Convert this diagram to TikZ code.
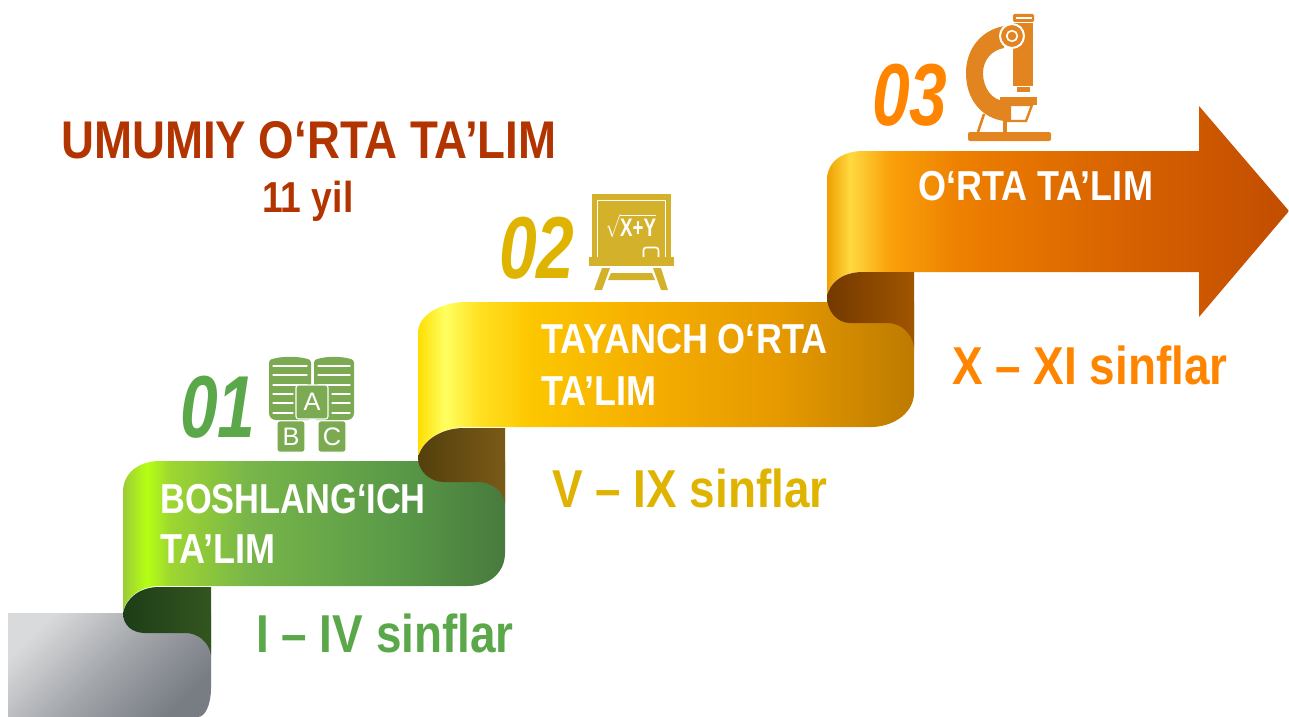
\documentclass[tikz,border=0pt]{standalone}
\usepackage{amsmath}
\usepackage{fontspec}
\setmainfont[FakeStretch=0.86]{Liberation Sans}
\newfontfamily\digitfont[FakeStretch=0.77]{Liberation Sans}
\newfontfamily\iconfont{Liberation Sans}
\usepackage{tikz}
\usetikzlibrary{positioning}
\definecolor{darkred}{HTML}{B23400}
\definecolor{stepgreen}{HTML}{5AA84A}
\definecolor{stepyellow}{HTML}{DFB400}
\definecolor{steporange}{HTML}{FF8500}
\definecolor{icongreen}{HTML}{7BAA52}
\definecolor{iconyellow}{HTML}{D4B12B}
\definecolor{iconorange}{HTML}{E28420}
\definecolor{greyA}{HTML}{D9DADB}
\definecolor{greyB}{HTML}{A3A6AB}
\definecolor{greyC}{HTML}{787D84}
\definecolor{foldgreenA}{HTML}{1D3D18}
\definecolor{foldgreenB}{HTML}{33551F}
\definecolor{foldyellowA}{HTML}{54400C}
\definecolor{foldyellowB}{HTML}{7A5A18}
\definecolor{foldorangeA}{HTML}{733900}
\definecolor{foldorangeB}{HTML}{A05500}
\pgfdeclarehorizontalshading{greenband}{100bp}{rgb(0bp)=(.61,.80,.22); rgb(25bp)=(.61,.80,.22); rgb(28.1bp)=(.71,1,.08); rgb(31.2bp)=(.62,.84,.19); rgb(41.6bp)=(.47,.71,.29); rgb(61.2bp)=(.35,.60,.28); rgb(75bp)=(.28,.48,.24); rgb(100bp)=(.28,.48,.24)}
\pgfdeclarehorizontalshading{yellowband}{100bp}{rgb(0bp)=(1,.87,0); rgb(25bp)=(1,.87,0); rgb(27.7bp)=(1,1,.38); rgb(31.2bp)=(1,.88,.13); rgb(36.3bp)=(.99,.78,0); rgb(48.4bp)=(.96,.68,0); rgb(61.5bp)=(.90,.60,0); rgb(75bp)=(.74,.48,0); rgb(100bp)=(.74,.48,0)}
\pgfdeclarehorizontalshading{orangeband}{100bp}{rgb(0bp)=(.94,.63,0); rgb(25bp)=(.94,.63,0); rgb(27.5bp)=(1,.85,.25); rgb(31.8bp)=(.98,.63,.04); rgb(39.4bp)=(.93,.5,0); rgb(57.8bp)=(.84,.38,0); rgb(73bp)=(.77,.31,0); rgb(100bp)=(.77,.31,0)}
\tikzstyle{titletext}=[inner sep=0pt, anchor=base west, text=darkred, font=\bfseries\fontsize{39.8}{40}\selectfont]
\tikzstyle{ribbontext}=[inner sep=0pt, anchor=base west, text=white, font=\bfseries\fontsize{31.4}{32}\selectfont]
\tikzstyle{classtext}=[inner sep=0pt, anchor=base west, font=\bfseries\fontsize{40}{41}\selectfont]
\tikzstyle{numtext}=[inner sep=0pt, anchor=base west, font=\digitfont\bfseries\itshape\fontsize{66}{67}\selectfont]
\tikzstyle{icontext}=[inner sep=0pt, text=white, font=\iconfont\fontsize{19}{19}\selectfont]
\tikzstyle{whiteline}=[draw=white, line width=1pt, line cap=round]
\tikzstyle{blockbox}=[draw=white, line width=0.8pt, fill=icongreen, rounded corners=2pt]

\begin{document}
\begin{tikzpicture}[x=0.75pt, y=-0.75pt]
        \useasboundingbox (0, 0) rectangle (1289, 717);
        % ribbon
        \shade[top color=greyA, bottom color=greyC, middle color=greyB, shading angle=45] (8, 613) -- (211, 613) -- (211, 688) .. controls (211, 705) and (205, 717) .. (198, 717) -- (8, 717) -- cycle;
        \shade[shading=greenband] (123, 613) -- (123, 492) .. controls (123, 472) and (140, 461) .. (160, 461) -- (505, 461) -- (505, 553) .. controls (505, 572) and (490, 586) .. (468, 586) -- (159, 586) .. controls (140, 586) and (125, 598) .. (123, 613) -- cycle;
        \shade[left color=foldgreenA, right color=foldgreenB] (123, 613) .. controls (126, 598) and (140, 587) .. (159, 587) -- (211, 587) -- (211, 655) .. controls (209, 642) and (198, 633) .. (185, 633) -- (145, 633) .. controls (132, 633) and (123, 625) .. (123, 613) -- cycle;
        \shade[shading=yellowband] (418, 458) -- (418, 333) .. controls (418, 315) and (440, 303) .. (464, 302) -- (914, 302) -- (914, 393) .. controls (914, 412) and (895, 426) .. (873, 427) -- (464, 427) .. controls (440, 428) and (420, 442) .. (418, 458) -- cycle;
        \shade[left color=foldyellowA, right color=foldyellowB] (418, 458) .. controls (421, 442) and (440, 428) .. (464, 428) -- (505, 428) -- (505, 503) .. controls (503, 491) and (492, 482) .. (478, 482) -- (444, 482) .. controls (430, 482) and (418, 471) .. (418, 458) -- cycle;
        \shade[shading=orangeband] (827, 297) -- (827, 180) .. controls (827, 162) and (842, 151) .. (863, 151) -- (1199, 151) -- (1199, 106) -- (1289, 211) -- (1199, 317) -- (1199, 272) -- (863, 272) .. controls (842, 272) and (829, 282) .. (827, 297) -- cycle;
        \shade[left color=foldorangeA, right color=foldorangeB] (827, 297) .. controls (829, 283) and (842, 272) .. (863, 272) -- (914, 272) -- (914, 347) .. controls (912, 333) and (901, 323) .. (887, 323) -- (850, 323) .. controls (837, 323) and (827, 311) .. (827, 297) -- cycle;
        % book
        \fill[icongreen, rounded corners=2pt] (269, 360) .. controls (282, 356) and (298, 356) .. (311, 360) -- (311, 420) -- (273, 420) -- (269, 416) -- cycle;
        \fill[icongreen, rounded corners=2pt] (314, 360) .. controls (327, 356) and (341, 356) .. (354, 360) -- (354, 416) -- (350, 420) -- (314, 420) -- cycle;
        \draw[whiteline] (273, 366) -- (307, 366);
        \draw[whiteline] (273, 375) -- (307, 375);
        \draw[whiteline] (273, 385) -- (307, 385);
        \draw[whiteline] (273, 394) -- (293, 394);
        \draw[whiteline] (273, 403) -- (293, 403);
        \draw[whiteline] (273, 413) -- (293, 413);
        \draw[whiteline] (318, 366) -- (350, 366);
        \draw[whiteline] (318, 375) -- (350, 375);
        \draw[whiteline] (318, 385) -- (350, 385);
        \draw[whiteline] (332, 394) -- (350, 394);
        \draw[whiteline] (332, 403) -- (350, 403);
        \draw[whiteline] (332, 413) -- (350, 413);
        \node[blockbox, minimum width=24pt, minimum height=25.5pt, inner sep=0pt] (Ablock) at (312, 402) {};
        \node[blockbox, minimum width=21pt, minimum height=23.5pt, inner sep=0pt] (Bblock) at (291, 436.5) {};
        \node[blockbox, minimum width=21pt, minimum height=23.5pt, inner sep=0pt] (Cblock) at (332, 436.5) {};
        \node[icontext] (Aletter) at (Ablock) {A};
        \node[icontext] (Bletter) at (Bblock) {B};
        \node[icontext] (Cletter) at (Cblock) {C};
        % board
        \fill[iconyellow] (592, 194) rectangle (671, 257);
        \draw[whiteline, line cap=butt, line width=1.2pt] (597.5, 257) -- (597.5, 200.5) -- (665.5, 200.5) -- (665.5, 257);
        \node[icontext] (formula) at (631, 226) {\scalebox{.74}[1]{\(\sqrt{\hbox{\iconfont\bfseries X+Y}}\)}};
        \draw[whiteline, line cap=butt, line width=1.2pt, rounded corners=2pt] (643.5, 257) -- (643.5, 247.5) -- (658.5, 247.5) -- (658.5, 257);
        \fill[iconyellow] (589, 257) rectangle (674, 266);
        \fill[iconyellow] (602, 268) -- (610, 268) -- (602, 290) -- (594, 290) -- cycle;
        \fill[iconyellow] (653, 268) -- (661, 268) -- (668, 290) -- (661, 290) -- cycle;
        \fill[iconyellow] (611, 273) -- (652, 273) -- (655, 280) -- (608, 280) -- cycle;
        % microscope
        \fill[iconorange, rounded corners=1.5pt] (968, 132) rectangle (1051, 141);
        \draw[iconorange, line width=2pt] (984, 114) -- (978, 132);
        \fill[iconorange] (1003, 120) rectangle (1007, 132);
        \fill[iconorange] (1004, 26) .. controls (982, 30) and (966, 48) .. (966, 73) .. controls (966, 100) and (982, 118) .. (1004, 121) -- (1011, 121) -- (1011, 101) -- (1004, 101) .. controls (992, 100) and (983, 88) .. (983, 73) .. controls (983, 60) and (992, 50) .. (1004, 48) -- cycle;
        \draw[iconorange, line width=1.8pt] (1011, 105) -- (1032, 105) -- (1026, 121) -- (1007, 121);
        \fill[iconorange] (1000, 97) rectangle (1037, 105);
        \fill[iconorange] (1013, 23) rectangle (1033, 86);
        \fill[iconorange] (1017, 87) rectangle (1030, 92);
        \fill[iconorange, rounded corners=1pt] (1013, 14) rectangle (1034, 22);
        \fill[white] (1015.5, 17) rectangle (1031.5, 19);
        \node[circle, fill=iconorange, draw=white, line width=1.5pt, minimum size=18pt, inner sep=0pt] (knob) at (1012, 36) {};
        \node[circle, fill=iconorange, draw=white, line width=1.2pt, minimum size=8pt, inner sep=0pt] (knobin) at (knob) {};
        % texts
        \node[titletext] (maintitle) at (61, 158) {UMUMIY O‘RTA TA’LIM};
        \node[titletext, font=\bfseries\fontsize{32.5}{33}\selectfont] (years) at (262, 212) {11 yil};
        \node[numtext, text=stepgreen] (numone) at (180, 437) {01};
        \node[numtext, text=stepyellow] (numtwo) at (499, 278) {02};
        \node[numtext, text=steporange] (numthree) at (872, 126) {03};
        \node[ribbontext] (boshlang) at (160, 513) {\scalebox{.955}[1]{BOSHLANG‘ICH}};
        \node[ribbontext] (boshlangb) at (160, 563) {TA’LIM};
        \node[ribbontext] (tayanch) at (541, 353) {TAYANCH O‘RTA};
        \node[ribbontext] (tayanchb) at (541, 405) {TA’LIM};
        \node[ribbontext] (orta) at (918, 200) {O‘RTA TA’LIM};
        \node[classtext, text=stepgreen] (classone) at (256, 652) {I – IV sinflar};
        \node[classtext, text=stepyellow] (classtwo) at (552, 507) {V – IX sinflar};
        \node[classtext, text=steporange] (classthree) at (952, 384) {X – XI sinflar};
    \end{tikzpicture}
\end{document}
